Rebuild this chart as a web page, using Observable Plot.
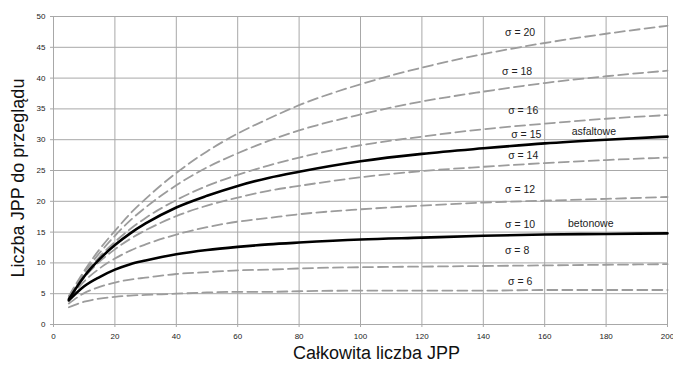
<!DOCTYPE html>
<html><head><meta charset="utf-8">
<script src="https://cdn.jsdelivr.net/npm/d3@7"></script>
<script src="https://cdn.jsdelivr.net/npm/@observablehq/plot@0.6"></script>
<style>body{margin:0;background:#fff}</style>
</head><body><div id="chart"></div>
<script>
const xs = [5,10,15,20,25,30,40,50,60,70,80,100,120,140,160,180,200];
const sigma6  = [2.8,3.7,4.2,4.5,4.7,4.8,5.0,5.2,5.3,5.3,5.4,5.5,5.5,5.5,5.6,5.6,5.6];
const sigma8  = [3.4,5.1,6.1,6.8,7.3,7.6,8.2,8.5,8.8,8.9,9.1,9.3,9.4,9.5,9.6,9.7,9.8];
const sigma12 = [4.1,7.0,9.1,10.7,12.0,13.0,14.6,15.8,16.7,17.3,17.9,18.7,19.3,19.8,20.1,20.4,20.7];
const sigma14 = [4.3,7.6,10.2,12.2,13.9,15.3,17.6,19.3,20.6,21.7,22.5,23.9,24.9,25.6,26.2,26.7,27.1];
const sigma16 = [4.5,8.0,11.0,13.4,15.5,17.3,20.2,22.5,24.3,25.8,27.1,29.1,30.5,31.7,32.6,33.4,34.0];
const sigma18 = [4.6,8.4,11.6,14.4,16.9,19.0,22.6,25.5,27.8,29.8,31.5,34.1,36.2,37.8,39.2,40.3,41.2];
const sigma20 = [4.6,8.7,12.2,15.2,18.0,20.4,24.6,28.1,31.0,33.4,35.6,39.0,41.7,43.9,45.7,47.2,48.5];
const betonowe  = [3.9,6.2,7.7,8.9,9.8,10.4,11.4,12.1,12.6,13.0,13.3,13.8,14.1,14.4,14.6,14.7,14.8];
const asfaltowe = [4.1,7.8,10.6,12.9,14.8,16.4,19.0,20.9,22.5,23.8,24.8,26.5,27.7,28.6,29.4,30.0,30.5];

const xTicks = [0,20,40,60,80,100,120,140,160,180,200];
const yTicks = [0,5,10,15,20,25,30,35,40,45,50];

const labelText = ["σ = 20","σ = 18","σ = 16","σ = 15","asfaltowe","σ = 14","σ = 12","σ = 10","betonowe","σ = 8","σ = 6"];
const labelX = [152,151,153,154,176,153,152,152,175,151,152];
const labelY = [47.4,41.0,34.7,30.8,31.3,27.4,21.9,16.2,16.4,12.0,7.0];

const dashedSeries = [["6",sigma6],["8",sigma8],["12",sigma12],["14",sigma14],["16",sigma16],["18",sigma18],["20",sigma20]];
const dashedRows = dashedSeries.flatMap(([s, vals]) => vals.map((v, i) => ({x: xs[i], y: v, s})));
const solidRows = [["betonowe",betonowe],["asfaltowe",asfaltowe]].flatMap(([s, vals]) => vals.map((v, i) => ({x: xs[i], y: v, s})));
const labels = labelText.map((t, i) => ({t, x: labelX[i], y: labelY[i]}));

const chart = Plot.plot({
  width: 673, height: 367,
  marginLeft: 53, marginRight: 6, marginTop: 16, marginBottom: 43,
  style: {fontFamily: "Liberation Sans, Arial, sans-serif", background: "#fff"},
  x: {domain: [0, 200]},
  y: {domain: [0, 50]},
  marks: [
    Plot.gridX(xTicks, {stroke: "#a8a8a8", strokeOpacity: 1, strokeWidth: 1}),
    Plot.gridY(yTicks, {stroke: "#a8a8a8", strokeOpacity: 1, strokeWidth: 1}),
    Plot.frame({stroke: "#a8a8a8"}),
    Plot.axisX(xTicks, {tickSize: 3, tickPadding: 6, fontSize: 8, fill: "#222", stroke: "#a8a8a8", label: null}),
    Plot.axisY(yTicks, {tickSize: 3, tickPadding: 5, fontSize: 8, fill: "#222", stroke: "#a8a8a8", label: null}),
    Plot.lineY(dashedRows, {x: "x", y: "y", z: "s", stroke: "#9c9c9c", strokeWidth: 1.8, strokeDasharray: "10,5", curve: "monotone-x"}),
    Plot.lineY(solidRows, {x: "x", y: "y", z: "s", stroke: "#000", strokeWidth: 2.6, curve: "monotone-x"}),
    Plot.text(labels, {x: "x", y: "y", text: "t", fontSize: 10.5, fill: "#222"}),
    Plot.text(["Całkowita liczba JPP"], {frameAnchor: "bottom", dx: 16, dy: 34, fontSize: 18, fill: "#111"}),
    Plot.text(["Liczba JPP do przeglądu"], {frameAnchor: "left", textAnchor: "middle", rotate: -90, dx: -35, dy: 7.5, fontSize: 18, fill: "#111"})
  ]
});
document.getElementById("chart").appendChild(chart);
</script>
</body></html>
